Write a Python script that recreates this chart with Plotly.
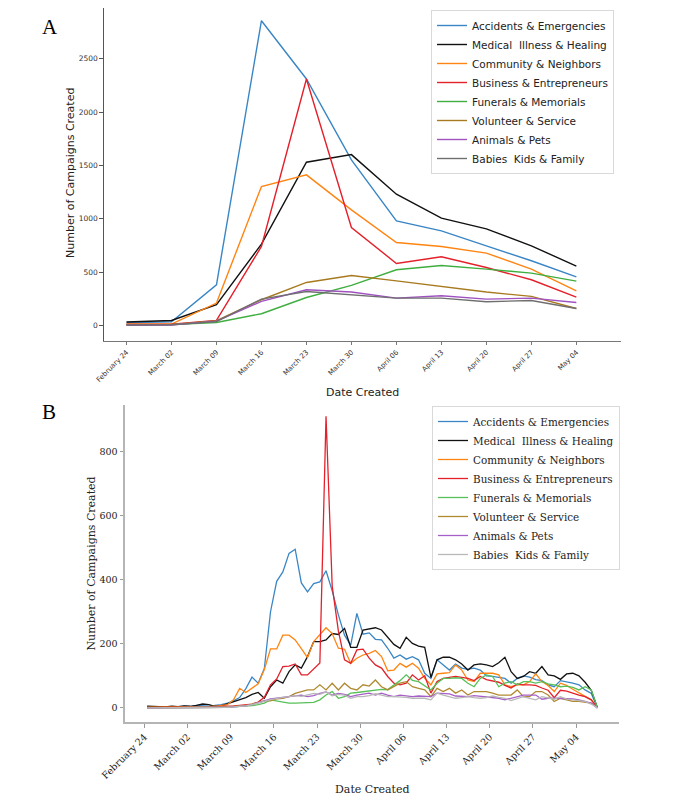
import pandas as pd
import plotly.graph_objects as go

# ---------------- data ----------------
categories = [
    "Accidents & Emergencies",
    "Medical  Illness & Healing",
    "Community & Neighbors",
    "Business & Entrepreneurs",
    "Funerals & Memorials",
    "Volunteer & Service",
    "Animals & Pets",
    "Babies  Kids & Family",
]

tick_labels = ["February 24", "March 02", "March 09", "March 16", "March 23", "March 30",
               "April 06", "April 13", "April 20", "April 27", "May 04"]

# Panel A: weekly totals
weeks = pd.date_range("2020-02-24", periods=11, freq="7D")
accidents_w = [25, 35, 381, 2856, 2310, 1551, 980, 886, 746, 606, 455]
medical_w = [32, 47, 194, 762, 1530, 1601, 1230, 1005, 905, 746, 556]
community_w = [13, 13, 210, 1302, 1411, 1083, 777, 740, 678, 528, 325]
business_w = [10, 12, 47, 740, 2310, 918, 581, 643, 543, 428, 266]
funerals_w = [5, 8, 28, 110, 262, 375, 522, 562, 528, 490, 415]
volunteer_w = [3, 8, 44, 241, 403, 468, 418, 365, 313, 272, 159]
animals_w = [2, 4, 40, 225, 334, 313, 256, 278, 247, 256, 215]
babies_w = [3, 6, 36, 247, 318, 287, 256, 256, 222, 234, 159]

# Panel B: daily counts
days = pd.date_range("2020-02-24 11:00", periods=74, freq="D")
accidents_d = [3, 2, 3, 2, 4, 3, 5, 4, 8, 6,
               5, 8, 10, 15, 22, 32, 60, 96, 77, 123,
               300, 395, 424, 482, 495, 390, 362, 388, 393, 428,
               365, 290, 227, 196, 295, 230, 234, 214, 212, 186,
               155, 165, 152, 160, 150, 108, 92, 150, 134, 118,
               137, 124, 120, 124, 118, 100, 98, 96, 92, 77,
               92, 100, 96, 88, 85, 72, 66, 85, 82, 77,
               72, 56, 45, 0]
medical_d = [5, 4, 3, 3, 5, 4, 6, 5, 8, 12,
             10, 5, 6, 12, 18, 25, 32, 42, 48, 30,
             66, 87, 77, 113, 134, 124, 160, 207, 207, 212,
             232, 229, 248, 189, 189, 243, 247, 250, 243, 220,
             198, 186, 220, 201, 193, 189, 95, 150, 158, 158,
             150, 137, 118, 134, 137, 134, 129, 141, 158, 113,
             92, 98, 113, 108, 129, 103, 100, 89, 106, 108,
             100, 80, 55, 0]
community_d = [2, 2, 2, 2, 2, 3, 3, 3, 4, 4,
               4, 5, 8, 10, 25, 61, 48, 62, 75, 120,
               184, 184, 227, 227, 212, 185, 157, 207, 228, 250,
               232, 186, 183, 139, 155, 165, 170, 179, 160, 116,
               118, 139, 127, 139, 124, 92, 72, 106, 108, 110,
               134, 118, 87, 82, 108, 108, 108, 103, 72, 66,
               72, 72, 82, 106, 82, 70, 51, 77, 70, 58,
               46, 36, 25, 0]
business_d = [1, 1, 1, 1, 1, 2, 2, 2, 3, 3,
              3, 4, 4, 5, 6, 8, 10, 12, 18, 33,
              72, 90, 129, 130, 137, 103, 103, 120, 140, 910,
              380, 240, 150, 139, 181, 183, 155, 134, 124, 98,
              77, 72, 77, 103, 87, 100, 46, 82, 92, 95,
              98, 95, 92, 85, 98, 88, 85, 80, 70, 62,
              75, 72, 72, 70, 62, 55, 32, 55, 52, 45,
              40, 35, 25, 0]
funerals_d = [0, 0, 0, 0, 0, 0, 0, 1, 1, 1,
              1, 2, 2, 2, 3, 4, 5, 7, 10, 15,
              25, 22, 18, 15, 15, 15, 15, 17, 25, 40,
              51, 30, 35, 46, 48, 51, 54, 56, 58, 57,
              70, 85, 103, 86, 82, 68, 56, 77, 92, 92,
              94, 92, 77, 66, 92, 103, 98, 66, 77, 82,
              72, 82, 82, 77, 82, 75, 72, 66, 68, 64,
              56, 66, 56, 0]
volunteer_d = [0, 0, 0, 0, 0, 0, 0, 0, 1, 1,
               1, 2, 2, 3, 4, 5, 8, 12, 18, 22,
               22, 28, 30, 35, 45, 51, 56, 56, 72, 56,
               77, 56, 77, 61, 56, 72, 68, 87, 66, 56,
               66, 77, 82, 66, 61, 56, 35, 61, 51, 61,
               46, 56, 40, 51, 51, 51, 46, 40, 40, 40,
               56, 35, 35, 51, 51, 40, 20, 30, 25, 20,
               20, 17, 15, 0]
animals_d = [0, 0, 0, 0, 1, 0, 0, 1, 1, 1,
             1, 1, 2, 2, 3, 4, 6, 10, 15, 22,
             28, 30, 32, 35, 38, 40, 35, 38, 45, 50,
             40, 45, 42, 35, 40, 42, 46, 40, 46, 40,
             35, 40, 38, 35, 37, 36, 35, 46, 44, 44,
             37, 36, 35, 38, 36, 35, 32, 30, 25, 30,
             37, 40, 40, 40, 27, 30, 30, 30, 30, 28,
             25, 20, 15, 0]
babies_d = [0, 0, 0, 0, 0, 0, 0, 0, 1, 1,
            1, 1, 2, 2, 3, 4, 6, 10, 14, 20,
            26, 30, 33, 35, 38, 36, 40, 45, 42, 50,
            38, 42, 40, 30, 35, 35, 38, 44, 40, 35,
            35, 35, 33, 30, 30, 30, 25, 46, 40, 35,
            30, 32, 35, 32, 30, 32, 37, 33, 30, 23,
            30, 35, 30, 25, 35, 30, 27, 35, 27, 25,
            23, 20, 12, 0]

weekly = [accidents_w, medical_w, community_w, business_w,
          funerals_w, volunteer_w, animals_w, babies_w]
daily = [accidents_d, medical_d, community_d, business_d,
         funerals_d, volunteer_d, animals_d, babies_d]

colors_a = ["#3a86c5", "#111111", "#ff8412", "#e4202a", "#3fae3f", "#a87a1f", "#a052c0", "#6f6f6f"]
colors_b = ["#3a86c5", "#111111", "#ff8412", "#e4202a", "#58c058", "#b08a30", "#a75fc8", "#b8b8b8"]

W, H = 686, 800
OFF = 8  # page body margin: screen position = paper position + 8


def fx(px):
    return (px - OFF) / W


def fy(py):
    return min(1.0, 1 - (py - OFF) / H)


fig = go.Figure()
for name, vals, col in zip(categories, weekly, colors_a):
    fig.add_trace(go.Scatter(x=weeks, y=vals, mode="lines", name=name,
                             line=dict(color=col, width=1.4),
                             xaxis="x", yaxis="y", legend="legend"))
for name, vals, col in zip(categories, daily, colors_b):
    fig.add_trace(go.Scatter(x=days, y=vals, mode="lines", name=name,
                             line=dict(color=col, width=1.3),
                             xaxis="x2", yaxis="y2", legend="legend2"))

day = pd.Timedelta(days=1)
sans = "DejaVu Sans"
serif = "DejaVu Serif"

common = dict(showgrid=False, zeroline=False, automargin=False, ticks="outside",
              ticklen=3.5, tickwidth=1, showline=True)

fig.update_layout(
    template="none",
    width=W, height=H,
    margin=dict(l=0, r=0, t=0, b=0, pad=0, autoexpand=False),
    paper_bgcolor="white", plot_bgcolor="white",
    showlegend=True,
    xaxis=dict(domain=[fx(104), fx(620.7)], anchor="y",
               range=[weeks[0] - 3.5 * day, weeks[0] + 76.9 * day],
               tickvals=weeks, ticktext=tick_labels, tickangle=-45,
               tickfont=dict(family=sans, size=7, color="#333"),
               linecolor="#777", linewidth=1.3, tickcolor="#777", **common),
    yaxis=dict(domain=[fy(340.7), fy(8)], anchor="x",
               range=[-143, 2975], tickvals=[0, 500, 1000, 1500, 2000, 2500],
               tickfont=dict(family=sans, size=7.5, color="#333"),
               linecolor="#555", linewidth=1.3, tickcolor="#555", **common),
    xaxis2=dict(domain=[fx(125), fx(619.3)], anchor="y2",
                range=[weeks[0] - 3.13 * day, weeks[0] + 77.0 * day],
                tickvals=weeks, ticktext=tick_labels, tickangle=-45,
                tickfont=dict(family=serif, size=9.5, color="#222"),
                linecolor="#b5b5b5", linewidth=2, tickcolor="#999", **common),
    yaxis2=dict(domain=[fy(722.3), fy(405)], anchor="x2",
                range=[-45, 945], tickvals=[0, 200, 400, 600, 800],
                tickfont=dict(family=serif, size=9.5, color="#222"),
                linecolor="#b5b5b5", linewidth=2, tickcolor="#999", **common),
    legend=dict(x=fx(431), y=fy(10), xanchor="left", yanchor="top",
                font=dict(family=sans, size=10.5, color="#222"),
                bgcolor="white", bordercolor="#d9d9d9", borderwidth=1,
                tracegroupgap=0),
    legend2=dict(x=fx(432), y=fy(406), xanchor="left", yanchor="top",
                 font=dict(family=serif, size=10.4, color="#222"),
                 bgcolor="white", bordercolor="#d9d9d9", borderwidth=1,
                 tracegroupgap=0),
    annotations=[
        dict(text="A", x=fx(50), y=fy(27), xanchor="center", yanchor="middle",
             xref="paper", yref="paper", showarrow=False,
             font=dict(family="Liberation Serif", size=21, color="black")),
        dict(text="B", x=fx(49), y=fy(412), xanchor="center", yanchor="middle",
             xref="paper", yref="paper", showarrow=False,
             font=dict(family="Liberation Serif", size=21, color="black")),
        dict(text="Number of Campaigns Created", x=fx(70), y=fy(173),
             xanchor="center", yanchor="middle",
             xref="paper", yref="paper", showarrow=False, textangle=-90,
             font=dict(family=sans, size=11, color="#222")),
        dict(text="Date Created", x=fx(362), y=fy(392.5),
             xanchor="center", yanchor="middle",
             xref="paper", yref="paper", showarrow=False,
             font=dict(family=sans, size=11, color="#222")),
        dict(text="Number of Campaigns Created", x=fx(91), y=fy(563.5),
             xanchor="center", yanchor="middle",
             xref="paper", yref="paper", showarrow=False, textangle=-90,
             font=dict(family=serif, size=11, color="#222")),
        dict(text="Date Created", x=fx(372), y=fy(789),
             xanchor="center", yanchor="middle",
             xref="paper", yref="paper", showarrow=False,
             font=dict(family=serif, size=11, color="#222")),
    ],
)

fig.write_html("out.html")
